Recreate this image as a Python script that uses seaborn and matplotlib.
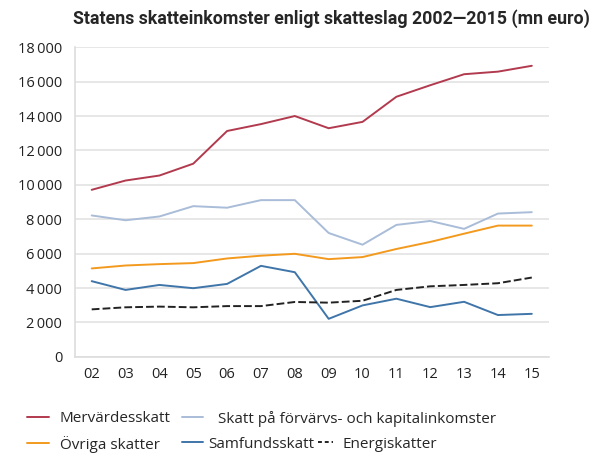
import numpy as np
import pandas as pd
import matplotlib
matplotlib.use("Agg")
import matplotlib.pyplot as plt
import seaborn as sns
from matplotlib.lines import Line2D
from matplotlib.ticker import FuncFormatter, FixedLocator

# Data (mn euro)
years = ["02", "03", "04", "05", "06", "07", "08", "09", "10", "11", "12", "13", "14", "15"]
mervardesskatt = [9710, 10250, 10540, 11230, 13130, 13530, 14000, 13290, 13660, 15120, 15790, 16430, 16580, 16920]
forvarvs_kapital = [8220, 7940, 8160, 8760, 8670, 9110, 9110, 7200, 6520, 7670, 7900, 7440, 8330, 8410]
ovriga = [5140, 5310, 5390, 5450, 5720, 5880, 5990, 5680, 5800, 6270, 6680, 7160, 7630, 7630]
samfundsskatt = [4400, 3890, 4180, 3990, 4240, 5290, 4920, 2210, 2990, 3380, 2890, 3200, 2430, 2500]
energiskatter = [2760, 2880, 2920, 2880, 2950, 2950, 3190, 3150, 3260, 3890, 4100, 4180, 4280, 4610]

names = ["Mervärdesskatt", "Skatt på förvärvs- och kapitalinkomster",
         "Övriga skatter", "Samfundsskatt", "Energiskatter"]
colors = ["#b23a4e", "#a9bcd8", "#f39a1e", "#3f75a9", "#222222"]

df = pd.DataFrame({"år": years * 5,
                   "pos": list(range(len(years))) * 5,
                   "värde": mervardesskatt + forvarvs_kapital + ovriga + samfundsskatt + energiskatter,
                   "serie": sum([[n] * len(years) for n in names], [])})

sns.set_style("white")
plt.rcParams["font.family"] = ["Open Sans", "DejaVu Sans"]

fig = plt.figure(figsize=(6.03, 4.54), dpi=100)
ax = fig.add_axes([0.124, 0.214, 0.786, 0.682])

sns.lineplot(data=df, x="pos", y="värde", hue="serie", style="serie",
             palette=dict(zip(names, colors)),
             dashes={n: ((4, 1.6) if n == "Energiskatter" else "") for n in names},
             linewidth=1.4, legend=False, ax=ax)

ax.set_xlim(-0.5, len(years) - 0.5)
ax.set_ylim(0, 18000)
ax.set_yticks(np.arange(0, 18001, 2000))
ax.yaxis.set_major_formatter(FuncFormatter(lambda v, p: f"{int(v):,}".replace(",", "\u2009")))
ax.set_xticks(range(len(years)))
ax.set_xticklabels(years)
ax.xaxis.set_minor_locator(FixedLocator(np.arange(-0.5, len(years), 1)))
ax.tick_params(axis="x", which="major", length=0, pad=7, labelsize=10.5, colors="#222222")
ax.tick_params(axis="x", which="minor", length=4, color="#dddddd")
ax.tick_params(axis="y", length=4, color="#dddddd", labelsize=10.5, colors="#222222", pad=5)
ax.set_xlabel("")
ax.set_ylabel("")
ax.grid(axis="y", color="#e3e3e3", linewidth=1.2)
for s in ["top", "right"]:
    ax.spines[s].set_visible(False)
for s in ["left", "bottom"]:
    ax.spines[s].set_color("#dddddd")
    ax.spines[s].set_linewidth(1.2)
ax.set_axisbelow(True)

fig.text(0.549, 0.96, "Statens skatteinkomster enligt skatteslag 2002\u20142015 (mn euro)",
         ha="center", va="center", fontsize=12.8, fontweight="bold",
         family=["Roboto", "DejaVu Sans"])

# legend entries placed one by one: (handle left x, text centre y, handle length, text pad)
leg_pos = [(0.045, 0.078, 1.4, 0.75), (0.302, 0.078, 1.4, 0.95),
           (0.045, 0.022, 1.4, 0.75), (0.302, 0.022, 1.4, 0.3),
           (0.527, 0.022, 1.0, 0.6)]
for i, (lx, ly, hl, tp) in enumerate(leg_pos):
    h = Line2D([], [], color=colors[i], linewidth=1.4,
               linestyle=(0, (2.0, 1.5)) if i == 4 else "-")
    fig.legend([h], [names[i]], frameon=False, fontsize=11, handlelength=hl,
               handletextpad=tp, loc="center left", borderaxespad=0, borderpad=0,
               bbox_to_anchor=(lx, ly))

fig.savefig("out.png", dpi=100)
